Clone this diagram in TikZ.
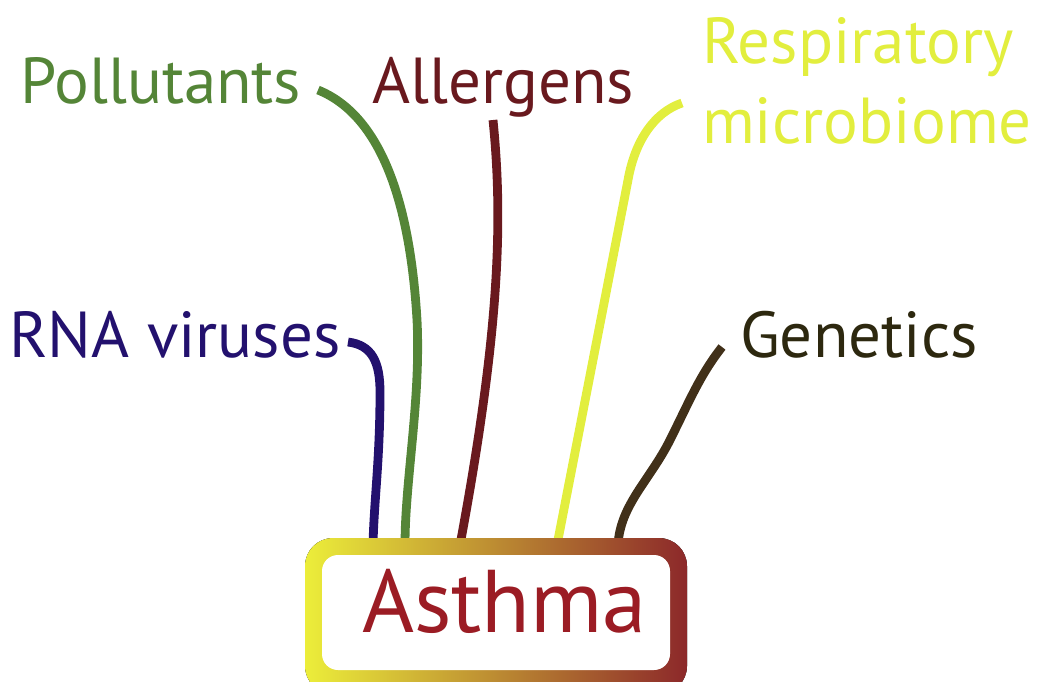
\documentclass[tikz,border=0pt]{standalone}
\usepackage{fontspec}
\setmainfont{PT Sans}
\definecolor{rnac}{RGB}{35,17,110}
\definecolor{polc}{RGB}{84,133,55}
\definecolor{allc}{RGB}{105,25,30}
\definecolor{resc}{RGB}{226,238,62}
\definecolor{genc}{RGB}{45,40,15}
\definecolor{genl}{RGB}{65,48,25}
\definecolor{asthc}{RGB}{155,28,36}
\definecolor{boxL}{RGB}{236,238,58}
\definecolor{boxM}{RGB}{196,155,50}
\definecolor{boxR}{RGB}{140,40,42}
\tikzset{
  lbl/.style={anchor=base west, inner sep=0pt, font=\fontsize{65}{70}\selectfont},
  conn/.style={line width=8.8pt}
}
\begin{document}
\begin{tikzpicture}[x=1pt,y=-1pt]
\useasboundingbox (0,0) rectangle (1040,681);
\clip (0,0) rectangle (1040,681);
% labels
\node[lbl, text=polc] (pol) at (20,103) {Pollutants};
\node[lbl, text=allc] (all) at (372,103) {Allergens};
\node[lbl, text=resc] (res) at (702,63) {Respiratory};
\node[lbl, text=resc] (mic) at (702,143) {microbiome};
\node[lbl, text=rnac] (rna) at (9,357) {RNA viruses};
\node[lbl, text=genc] (gen) at (740,357) {Genetics};
% connector endpoints
\coordinate (polS) at (318,90);
\coordinate (allS) at (493,120);
\coordinate (resS) at (682,103);
\coordinate (rnaS) at (348,342);
\coordinate (genS) at (722,347);
\coordinate (rnaE) at (373,545);
\coordinate (polE) at (405,545);
\coordinate (allE) at (460,545);
\coordinate (resE) at (557,545);
\coordinate (genE) at (618,545);
% connectors
\draw[conn, rnac] (rnaS) .. controls (372,345) and (380,362) .. (380,392) .. controls (380,460) and (374,500) .. (rnaE);
\draw[conn, polc] (polS) .. controls (380,115) and (410,200) .. (417,320) .. controls (421,400) and (405,480) .. (polE);
\draw[conn, allc] (allS) .. controls (503,220) and (500,330) .. (allE);
\draw[conn, resc] (resS) .. controls (655,112) and (635,140) .. (628,180) -- (resE);
\draw[conn, genl] (genS) .. controls (700,375) and (690,400) .. (670,440) .. controls (650,480) and (620,505) .. (genE);
% box
\fill[left color=boxL, middle color=boxM, right color=boxR, rounded corners=28pt] (305,538) rectangle (687,694);
\fill[white, rounded corners=16pt] (322,555) rectangle (670,670);
\node[anchor=base west, inner sep=0pt, text=asthc, font=\fontsize{89}{94}\selectfont] (asthma) at (362,632) {Asthma};
\end{tikzpicture}
\end{document}
